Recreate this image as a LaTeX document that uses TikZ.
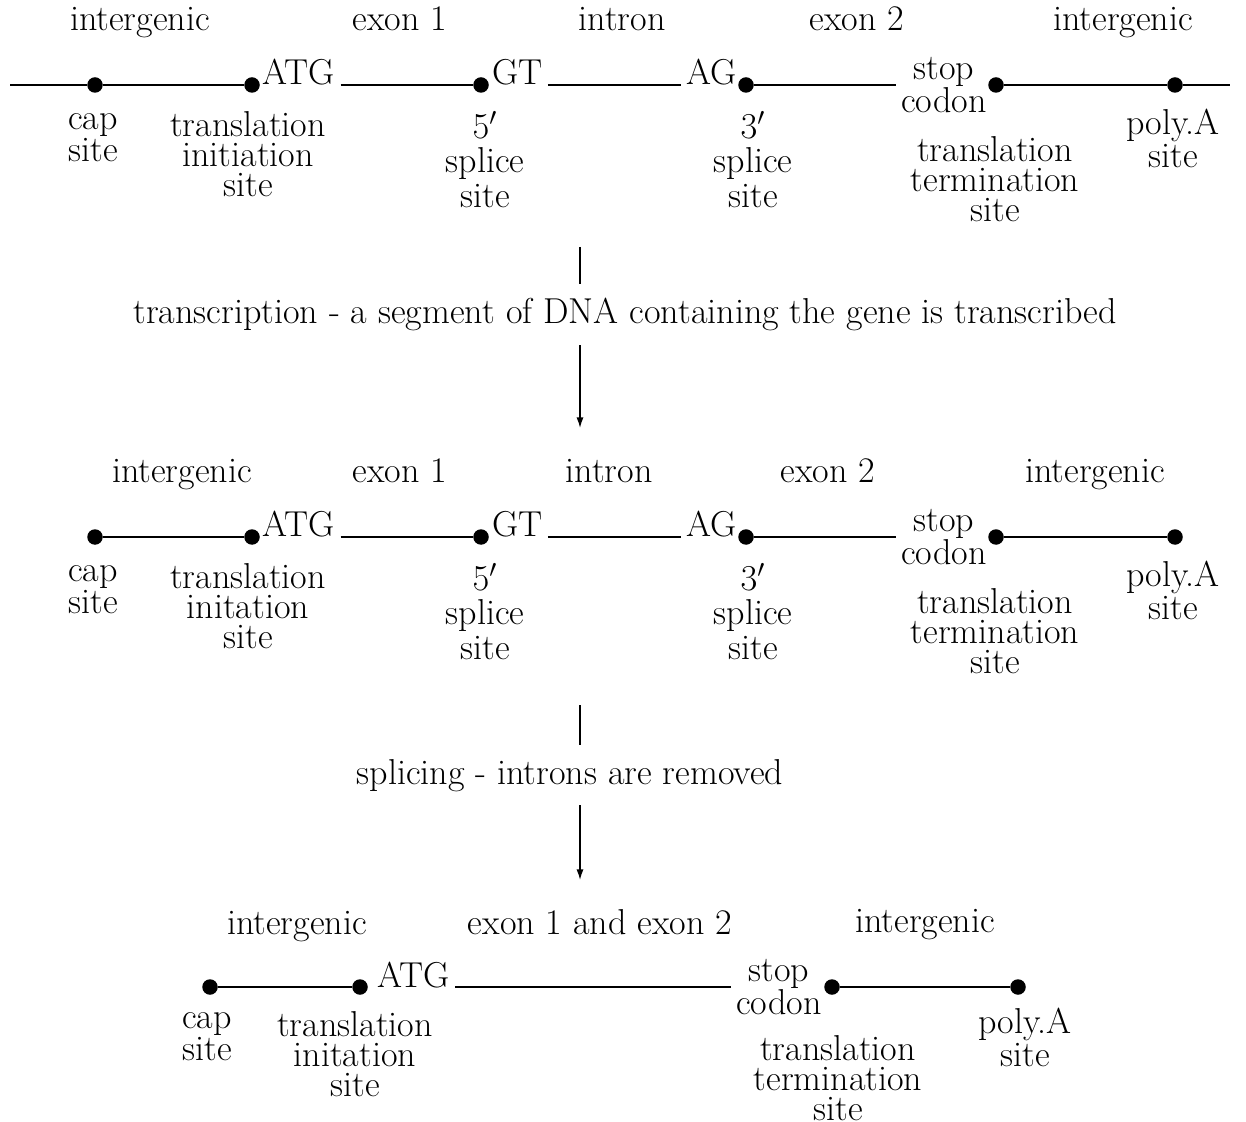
\documentclass[tikz,border=0pt]{standalone}
\usepackage{tikz}
\usetikzlibrary{arrows.meta}

\begin{document}
\begin{tikzpicture}[x=1cm,y=1cm,
  font=\fontsize{20.5}{17}\selectfont,
  sitedot/.style={circle,fill=black,inner sep=0pt,minimum size=0.31cm},
  seqtxt/.style={inner xsep=3pt,inner ysep=0pt},
  sitelbl/.style={anchor=north,align=center,inner sep=0pt},
  reglbl/.style={anchor=base,inner sep=0pt},
  steptxt/.style={anchor=base,inner xsep=0pt,inner ysep=7.8pt},
  strand/.style={line width=1pt},
  stepline/.style={line width=0.8pt}]
\path[use as bounding box] (0,0) rectangle (24.92,22.42);
\coordinate (lend1) at (0.20,20.72);
\node[sitedot] (cap1) at (1.90,20.72) {};
\node[sitedot] (atgdot1) at (5.04,20.72) {};
\node[seqtxt,anchor=base west] (atg1) at ([xshift=0.10cm]atgdot1.center) {ATG};
\node[sitedot] (gtdot1) at (9.62,20.72) {};
\node[seqtxt,anchor=base west] (gt1) at ([xshift=0.11cm]gtdot1.center) {GT};
\node[sitedot] (agdot1) at (14.92,20.72) {};
\node[seqtxt,anchor=base east] (ag1) at ([xshift=-0.07cm]agdot1.center) {AG};
\node[seqtxt,align=center] (stop1) at (18.88,20.72) {stop\\codon};
\node[sitedot] (stopdot1) at (19.92,20.72) {};
\node[sitedot] (poly1) at (23.50,20.72) {};
\coordinate (rend1) at (24.60,20.72);
\draw[strand] (lend1) -- (cap1) -- (atgdot1);
\draw[strand] (atg1.base east) -- (gtdot1);
\draw[strand] (gt1.base east) -- (ag1.base west);
\draw[strand] (agdot1) -- (stop1);
\draw[strand] (stopdot1) -- (poly1) -- (rend1);
\node[reglbl] (igleft1) at (2.80,21.80) {intergenic};
\node[reglbl] (exonone1) at (8.00,21.80) {exon 1};
\node[reglbl] (intron1) at (12.44,21.80) {intron};
\node[reglbl] (exontwo1) at (17.14,21.80) {exon 2};
\node[reglbl] (igright1) at (22.46,21.80) {intergenic};
\node[sitelbl] (caplbl1) at (1.86,20.16) {cap\\site};
\node[sitelbl] (initlbl1) at (4.96,20.20) {translation\\initiation\\site};
\node[sitelbl] (fivelbl1) at (9.70,20.20) {$5'$\\[2pt]splice\\[2pt]site};
\node[sitelbl] (threelbl1) at (15.06,20.20) {$3'$\\[2pt]splice\\[2pt]site};
\node[sitelbl] (termlbl1) at (19.90,19.70) {translation\\termination\\site};
\node[sitelbl] (polylbl1) at (23.46,20.24) {poly.A\\site};
\node[steptxt] (trans) at (12.50,15.94) {transcription - a segment of DNA containing the gene is transcribed};
\coordinate (transtop) at (11.60,17.48);
\coordinate (transend) at (11.60,13.86);
\draw[stepline] (transtop) -- (transtop |- trans.north);
\draw[stepline,-{Latex[length=6pt,width=4pt]}] (transtop |- trans.south) -- (transend);
\node[sitedot] (cap2) at (1.90,11.68) {};
\node[sitedot] (atgdot2) at (5.04,11.68) {};
\node[seqtxt,anchor=base west] (atg2) at ([xshift=0.10cm]atgdot2.center) {ATG};
\node[sitedot] (gtdot2) at (9.62,11.68) {};
\node[seqtxt,anchor=base west] (gt2) at ([xshift=0.11cm]gtdot2.center) {GT};
\node[sitedot] (agdot2) at (14.92,11.68) {};
\node[seqtxt,anchor=base east] (ag2) at ([xshift=-0.07cm]agdot2.center) {AG};
\node[seqtxt,align=center] (stop2) at (18.88,11.68) {stop\\codon};
\node[sitedot] (stopdot2) at (19.92,11.68) {};
\node[sitedot] (poly2) at (23.50,11.68) {};
\draw[strand] (cap2) -- (atgdot2);
\draw[strand] (atg2.base east) -- (gtdot2);
\draw[strand] (gt2.base east) -- (ag2.base west);
\draw[strand] (agdot2) -- (stop2);
\draw[strand] (stopdot2) -- (poly2);
\node[reglbl] (igleft2) at (3.64,12.76) {intergenic};
\node[reglbl] (exonone2) at (8.00,12.76) {exon 1};
\node[reglbl] (intron2) at (12.18,12.76) {intron};
\node[reglbl] (exontwo2) at (16.56,12.76) {exon 2};
\node[reglbl] (igright2) at (21.90,12.76) {intergenic};
\node[sitelbl] (caplbl2) at (1.86,11.12) {cap\\site};
\node[sitelbl] (initlbl2) at (4.96,11.16) {translation\\initation\\site};
\node[sitelbl] (fivelbl2) at (9.70,11.16) {$5'$\\[2pt]splice\\[2pt]site};
\node[sitelbl] (threelbl2) at (15.06,11.16) {$3'$\\[2pt]splice\\[2pt]site};
\node[sitelbl] (termlbl2) at (19.90,10.66) {translation\\termination\\site};
\node[sitelbl] (polylbl2) at (23.46,11.20) {poly.A\\site};
\node[steptxt] (splice) at (11.40,6.74) {splicing - introns are removed};
\coordinate (splicetop) at (11.60,8.32);
\coordinate (spliceend) at (11.60,4.82);
\draw[stepline] (splicetop) -- (splicetop |- splice.north);
\draw[stepline,-{Latex[length=6pt,width=4pt]}] (splicetop |- splice.south) -- (spliceend);
\node[sitedot] (cap3) at (4.20,2.68) {};
\node[sitedot] (atgdot3) at (7.20,2.68) {};
\node[seqtxt,anchor=base west] (atg3) at ([xshift=0.23cm]atgdot3.center) {ATG};
\node[seqtxt,align=center] (stop3) at (15.58,2.68) {stop\\codon};
\node[sitedot] (stopdot3) at (16.64,2.68) {};
\node[sitedot] (poly3) at (20.36,2.68) {};
\draw[strand] (cap3) -- (atgdot3);
\draw[strand] (atg3.base east) -- (stop3);
\draw[strand] (stopdot3) -- (poly3);
\node[reglbl] (igleft3) at (5.94,3.74) {intergenic};
\node[reglbl] (exonboth3) at (12.00,3.74) {exon 1 and exon 2};
\node[reglbl] (igright3) at (18.50,3.78) {intergenic};
\node[sitelbl] (caplbl3) at (4.14,2.18) {cap\\site};
\node[sitelbl] (initlbl3) at (7.10,2.20) {translation\\initation\\site};
\node[sitelbl] (termlbl3) at (16.76,1.72) {translation\\termination\\site};
\node[sitelbl] (polylbl3) at (20.50,2.26) {poly.A\\site};
\end{tikzpicture}
\end{document}
